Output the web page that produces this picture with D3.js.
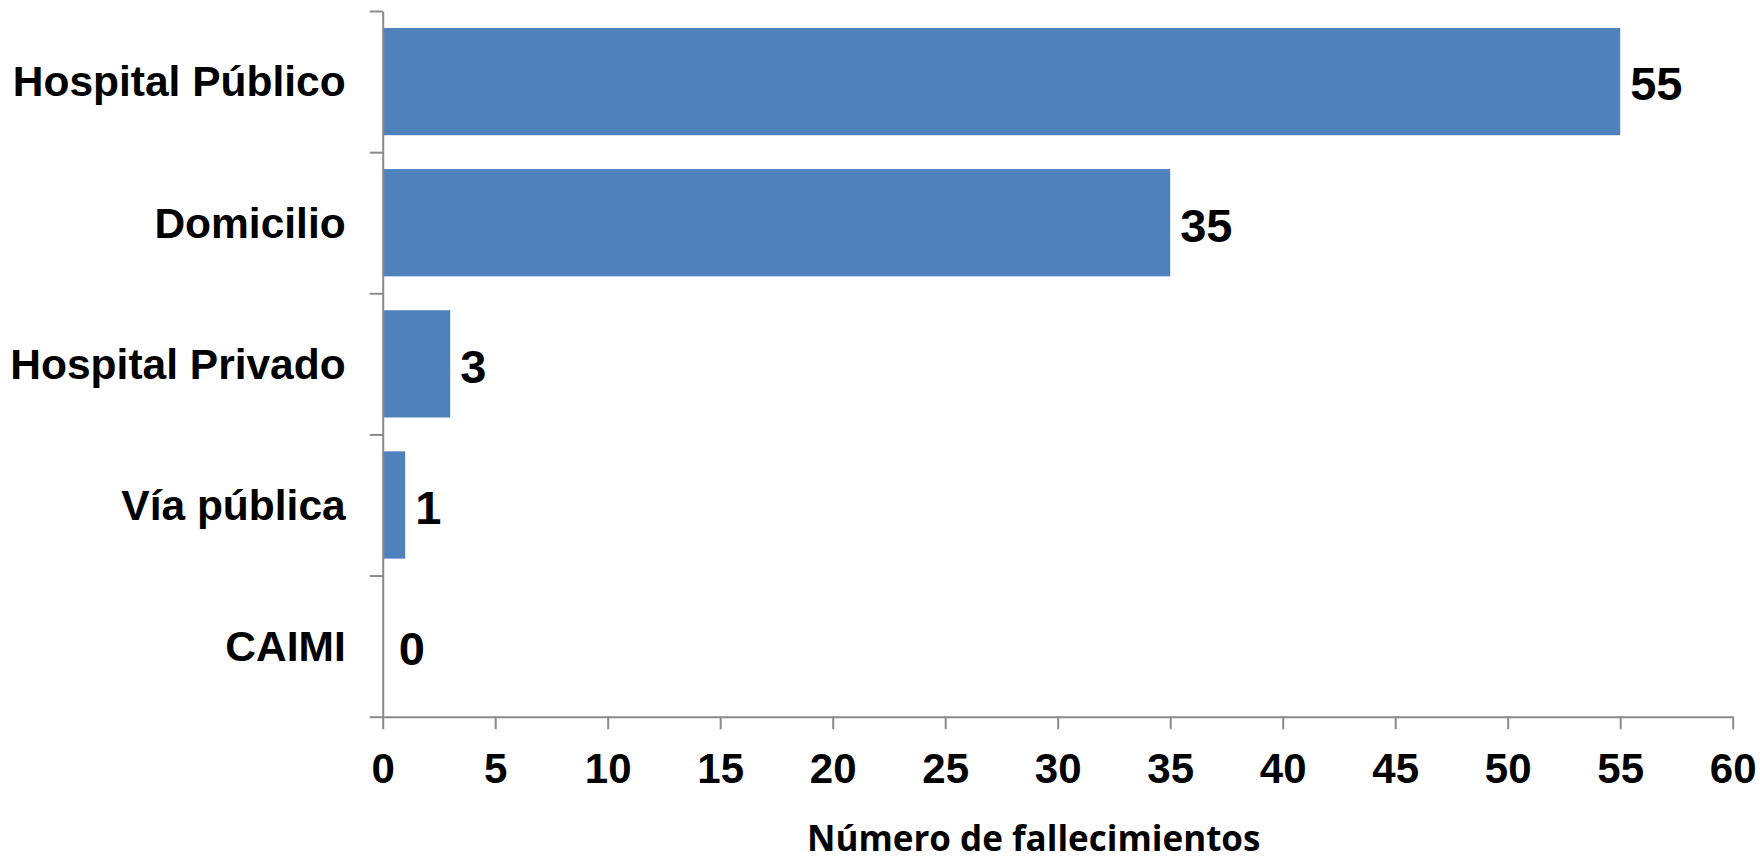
<!DOCTYPE html>
<html>
<head>
<meta charset="utf-8">
<script src="https://cdn.jsdelivr.net/npm/d3@7"></script>
<style>
  html, body { margin: 0; padding: 0; background: #ffffff; }
  svg { display: block; }
</style>
</head>
<body>
<script>
// ---- data ----
const categories = ["Hospital Público", "Domicilio", "Hospital Privado", "Vía pública", "CAIMI"];
const values = [55, 35, 3, 1, 0];
const xTicks = [0, 5, 10, 15, 20, 25, 30, 35, 40, 45, 50, 55, 60];
const xTitle = "Número de fallecimientos";

// ---- layout ----
const W = 1760, H = 860;
const plot = { left: 382.7, right: 1732.7, top: 11, bottom: 716.7 };
const axisColor = "#8a8a8a";
const barColor = "#4F81BD";
const font = "'Liberation Sans', Arial, sans-serif";

const svg = d3.select("body").append("svg").attr("width", W).attr("height", H);

const x = d3.scaleLinear().domain([0, 60]).range([plot.left, plot.right]);
const y = d3.scaleBand().domain(categories).range([plot.top, plot.bottom])
  .paddingInner(0.24).paddingOuter(0.12);
const yIdx = d3.scaleLinear().domain([0, categories.length]).range([plot.top, plot.bottom]);

// bars
svg.append("g").selectAll("rect").data(values).join("rect")
  .attr("x", x(0))
  .attr("y", (d, i) => y(categories[i]))
  .attr("width", d => x(d) - x(0))
  .attr("height", y.bandwidth())
  .attr("fill", barColor);

// y axis (ticks at category boundaries)
const yAxis = svg.append("g").attr("transform", `translate(${plot.left},0)`)
  .call(d3.axisLeft(yIdx).tickValues(d3.range(0, categories.length + 1))
    .tickSize(13).tickSizeOuter(0).tickFormat(""));
yAxis.selectAll("path, line").attr("stroke", axisColor).attr("stroke-width", 2);

// x axis
const xAxis = svg.append("g").attr("transform", `translate(0,${plot.bottom})`)
  .call(d3.axisBottom(x).tickValues(xTicks).tickSize(12.6).tickSizeOuter(0).tickPadding(24));
xAxis.selectAll("path, line").attr("stroke", axisColor).attr("stroke-width", 2);
xAxis.selectAll("text")
  .attr("fill", "#000")
  .style("font-family", font)
  .style("font-weight", "bold")
  .style("font-size", "42px")
  .attr("dy", "0.71em");

// category labels
svg.append("g").selectAll("text").data(categories).join("text")
  .attr("x", plot.left - 37)
  .attr("y", d => y(d) + y.bandwidth() / 2)
  .attr("dy", "0.35em")
  .attr("text-anchor", "end")
  .style("font-family", font)
  .style("font-weight", "bold")
  .style("font-size", "42.5px")
  .attr("fill", "#000")
  .text(d => d);

// value labels
svg.append("g").selectAll("text").data(values).join("text")
  .attr("x", d => Math.max(x(d) + 10, x(0) + 16))
  .attr("y", (d, i) => y(categories[i]) + y.bandwidth() / 2)
  .attr("dy", "0.4em")
  .style("font-family", font)
  .style("font-weight", "bold")
  .style("font-size", "47px")
  .attr("fill", "#000")
  .text(d => d);

// x title
svg.append("text")
  .attr("x", (x(0) + x(60)) / 2 - 24)
  .attr("y", 851)
  .attr("text-anchor", "middle")
  .style("font-family", "'Open Sans', 'Noto Sans', sans-serif")
  .style("font-weight", "bold")
  .style("font-size", "35px")
  .attr("fill", "#000")
  .text(xTitle);
</script>
</body>
</html>
